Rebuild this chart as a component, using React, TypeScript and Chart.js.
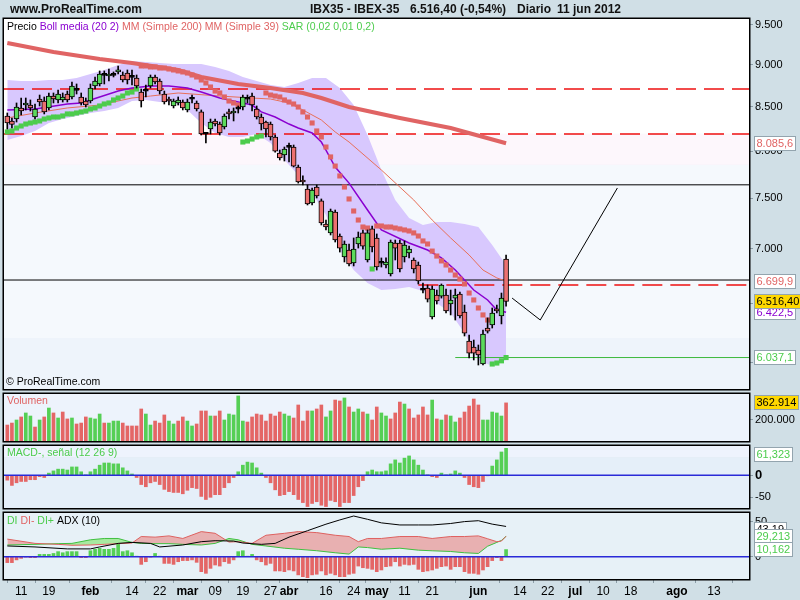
import React, { useEffect, useRef } from "react";
import { Chart, registerables } from "chart.js";

Chart.register(...registerables);

const FONT = "'Liberation Sans', Arial, Helvetica, sans-serif";

// ===== x axis: trading-day index (0 = 6 ene 2012 ... 108 = 11 jun 2012) =====
const xTickIdx = [3, 9, 18, 27, 33, 39, 45, 51, 57, 61, 69, 75, 80, 86, 92, 102, 111, 117, 123, 129, 135, 145, 153];
const xTickLbl = ["11", "19", "feb", "14", "22", "mar", "09", "19", "27", "abr", "16", "24", "may", "11", "21", "jun", "14", "22", "jul", "10", "18", "ago", "13"];
const monthLbls = ["feb", "mar", "abr", "may", "jun", "jul", "ago"];

// ===== IBEX-35 daily OHLC =====
const opens = [
  8392, 8335, 8357, 8484, 8518, 8518, 8380, 8588, 8565, 8484,
  8623, 8577, 8577, 8647, 8612, 8690, 8612, 8565, 8565, 8742,
  8766, 8870, 8862, 8870, 8911, 8874, 8898, 8846, 8838, 8670,
  8680, 8742, 8850, 8802, 8647, 8577, 8507, 8542, 8553, 8461,
  8585, 8542, 8438, 8185, 8244, 8335, 8300, 8267, 8438, 8426,
  8470, 8495, 8585, 8623, 8472, 8380, 8323, 8300, 8155, 7979,
  7957, 8040, 8044, 7828, 7690, 7596, 7453, 7617, 7474, 7243,
  7155, 7362, 7125, 6924, 6990, 6868, 7048, 7155, 6896, 7194,
  7106, 6865, 6849, 6765, 7057, 7057, 6924, 6962, 6896, 6849,
  6617, 6637, 6380, 6574, 6565, 6574, 6494, 6547, 6583, 6424,
  6175, 6124, 6099, 5984, 6285, 6311, 6450, 6389, 6905,
];
const highs = [
  8426, 8369, 8542, 8600, 8600, 8577, 8530, 8635, 8612, 8659,
  8659, 8694, 8659, 8682, 8790, 8766, 8659, 8600, 8766, 8850,
  8923, 8923, 8947, 8911, 8984, 8911, 8935, 8935, 8874, 8706,
  8754, 8874, 8874, 8826, 8682, 8612, 8588, 8612, 8577, 8588,
  8635, 8565, 8461, 8199, 8357, 8357, 8323, 8415, 8472, 8484,
  8507, 8635, 8635, 8659, 8507, 8415, 8335, 8323, 8177, 8011,
  8044, 8088, 8066, 7849, 7733, 7638, 7607, 7638, 7494, 7282,
  7392, 7382, 7145, 7077, 7048, 7106, 7164, 7184, 7184, 7223,
  7145, 6915, 6915, 7086, 7086, 7086, 7077, 7028, 6915, 6877,
  6683, 6665, 6656, 6619, 6674, 6628, 6619, 6628, 6601, 6485,
  6225, 6183, 6141, 6268, 6372, 6459, 6485, 6592, 6943,
];
const lows = [
  8244, 8255, 8323, 8403, 8461, 8449, 8357, 8507, 8415, 8461,
  8542, 8542, 8553, 8553, 8588, 8647, 8518, 8495, 8542, 8706,
  8742, 8766, 8802, 8850, 8886, 8790, 8766, 8754, 8718, 8495,
  8612, 8718, 8766, 8647, 8530, 8518, 8484, 8518, 8461, 8438,
  8542, 8449, 8177, 8088, 8188, 8278, 8177, 8244, 8357, 8335,
  8426, 8461, 8542, 8449, 8357, 8233, 8155, 8121, 7989, 7903,
  7892, 7882, 7828, 7658, 7638, 7433, 7433, 7504, 7233, 7184,
  7135, 7067, 6971, 6877, 6840, 6840, 7009, 6999, 6877, 6971,
  6802, 6830, 6821, 6747, 6896, 6784, 6877, 6915, 6775, 6674,
  6592, 6512, 6363, 6494, 6547, 6415, 6398, 6354, 6372, 6217,
  6033, 6017, 5976, 5976, 6242, 6285, 6415, 6320, 6476,
];
const closes = [
  8312, 8295, 8495, 8449, 8530, 8484, 8472, 8553, 8438, 8623,
  8588, 8647, 8612, 8577, 8742, 8690, 8542, 8518, 8718, 8802,
  8886, 8870, 8886, 8870, 8935, 8814, 8814, 8846, 8742, 8565,
  8680, 8850, 8790, 8682, 8553, 8565, 8565, 8577, 8484, 8553,
  8585, 8472, 8188, 8185, 8323, 8300, 8199, 8392, 8415, 8449,
  8470, 8612, 8585, 8518, 8380, 8300, 8244, 8155, 8000, 7925,
  8022, 8040, 7838, 7669, 7669, 7443, 7586, 7525, 7253, 7213,
  7372, 7086, 7009, 7048, 6858, 6999, 7115, 7028, 7155, 7019,
  6830, 6865, 6877, 7067, 7009, 6812, 7038, 6999, 6812, 6701,
  6617, 6538, 6628, 6521, 6665, 6433, 6530, 6574, 6389, 6242,
  6074, 6074, 6058, 6234, 6259, 6415, 6433, 6547, 6516.4,
];

// ===== Bollinger (20 2) =====
const bollIdx = [0, 3, 6, 9, 12, 15, 18, 21, 24, 27, 30, 33, 36, 39, 42, 45, 48, 51, 54, 57, 60, 63, 66, 69, 72, 75, 78, 81, 84, 87, 90, 93, 96, 99, 102, 105, 108];
const bollUpper = [8814, 8802, 8802, 8814, 8814, 8838, 8886, 8935, 8996, 9045, 9033, 9020, 9008, 9008, 9008, 8972, 8923, 8850, 8802, 8754, 8730, 8778, 8838, 8838, 8718, 8518, 8177, 7796, 7484, 7302, 7233, 7262, 7262, 7243, 7213, 7038, 6849];
const bollLower = [8121, 8166, 8222, 8312, 8357, 8392, 8426, 8449, 8484, 8565, 8577, 8553, 8553, 8461, 8312, 8199, 8155, 8155, 8188, 8088, 7903, 7743, 7555, 7332, 6990, 6802, 6683, 6619, 6628, 6647, 6610, 6503, 6415, 6242, 6017, 5968, 6017];
const mediaIdx = [0, 6, 13, 16, 20, 24, 27, 31, 35, 39, 42, 46, 50, 53, 55, 58, 61, 63, 66, 68, 69, 71, 74, 78, 81, 87, 91, 94, 97, 101, 104, 106, 108];
const mediaVal = [8461, 8472, 8530, 8542, 8612, 8682, 8718, 8742, 8742, 8718, 8670, 8600, 8553, 8518, 8438, 8380, 8300, 8255, 8199, 8099, 8011, 7828, 7658, 7382, 7184, 7057, 6990, 6915, 6802, 6619, 6530, 6441, 6422.5];

// ===== moving averages =====
const mm200Idx = [0, 10, 20, 27, 37, 42, 50, 57, 64, 68, 74, 85, 96, 108];
const mm200Val = [9270, 9157, 9069, 9020, 8935, 8850, 8766, 8718, 8659, 8600, 8495, 8369, 8255, 8085.6];
const mm39Idx = [0, 6, 13, 20, 27, 31, 37, 46, 53, 57, 61, 64, 68, 71, 74, 81, 88, 92, 96, 100, 103, 106, 108];
const mm39Val = [8369, 8426, 8484, 8518, 8600, 8623, 8659, 8623, 8600, 8588, 8542, 8461, 8346, 8211, 8099, 7796, 7484, 7282, 7106, 6943, 6802, 6729, 6699.9];

// ===== SAR (0,02 0,01 0,2) : 1 = below price =====
const sarVals = [
  8211, 8222, 8255, 8278, 8300, 8312, 8323, 8335, 8357, 8369, 8380, 8380, 8392, 8415, 8415, 8426, 8438, 8449, 8472, 8484,
  8507, 8530, 8542, 8577, 8600, 8623, 8659, 8670, 8706,
  8984, 8984, 8972, 8972, 8959, 8959, 8947, 8935, 8923, 8911, 8898, 8874, 8850, 8814, 8778, 8730, 8682, 8659, 8612, 8565, 8542, 8518,
  8099, 8110, 8132, 8155, 8166,
  8659, 8635, 8623, 8612, 8577, 8553, 8530, 8495, 8438, 8380, 8312, 8222, 8155, 8044, 7936, 7838, 7733, 7617, 7494, 7372, 7282, 7213, 7203,
  6812,
  7223, 7223, 7213, 7213, 7203, 7194, 7184, 7174, 7155, 7125, 7077, 7048, 6980, 6933, 6887, 6849, 6802, 6756, 6719, 6674, 6592, 6530, 6459, 6398, 6354,
  5984, 5992, 6010, 6037.1,
];
const sarUp = [
  1, 1, 1, 1, 1, 1, 1, 1, 1, 1, 1, 1, 1, 1, 1, 1, 1, 1, 1, 1, 1, 1, 1, 1, 1, 1, 1, 1, 1,
  0, 0, 0, 0, 0, 0, 0, 0, 0, 0, 0, 0, 0, 0, 0, 0, 0, 0, 0, 0, 0, 0,
  1, 1, 1, 1, 1,
  0, 0, 0, 0, 0, 0, 0, 0, 0, 0, 0, 0, 0, 0, 0, 0, 0, 0, 0, 0, 0, 0, 0,
  1,
  0, 0, 0, 0, 0, 0, 0, 0, 0, 0, 0, 0, 0, 0, 0, 0, 0, 0, 0, 0, 0, 0, 0, 0, 0,
  1, 1, 1, 1,
];

// ===== drawn levels / trend line =====
const blackLevels = [7640, 6710];
const redDashLevels = [8706, 8189];
const partDashLevel = 6665;
const partDashFrom = 89;
const supportLevel = 6037.1;
const supportFrom = 97;
const trendIdx = [109.3, 115.4, 132.1];
const trendVal = [6547, 6354, 7607];
const bgLevels = [8189, 7850, 6200];

// ===== volume (thousands) and direction (1 = up) =====
const volK = [
  152, 171, 200, 229, 267, 238, 133, 200, 229, 314,
  267, 219, 276, 210, 219, 162, 171, 229, 219, 210,
  257, 171, 171, 190, 190, 171, 143, 143, 143, 305,
  257, 152, 190, 171, 248, 190, 162, 190, 229, 190,
  143, 162, 286, 286, 238, 238, 286, 200, 257, 248,
  429, 190, 181, 229, 257, 248, 190, 257, 238, 276,
  257, 238, 219, 343, 190, 286, 286, 305, 343, 229,
  286, 390, 381, 410, 324, 276, 305, 276, 257, 200,
  324, 267, 238, 210, 267, 371, 352, 305, 219, 248,
  324, 248, 390, 210, 200, 248, 238, 181, 219, 276,
  333, 400, 343, 200, 200, 276, 267, 238, 362.914,
];
const volUp = [
  0, 0, 1, 0, 1, 1, 0, 1, 0, 1,
  0, 1, 0, 0, 1, 0, 0, 0, 1, 1,
  1, 0, 1, 1, 1, 0, 0, 0, 0, 0,
  1, 1, 0, 0, 0, 1, 1, 0, 0, 1,
  1, 0, 0, 0, 1, 0, 0, 1, 1, 1,
  1, 1, 0, 0, 0, 0, 0, 0, 0, 0,
  1, 1, 0, 0, 0, 0, 1, 0, 0, 1,
  1, 0, 0, 1, 0, 1, 1, 0, 1, 0,
  0, 1, 1, 0, 0, 0, 1, 0, 0, 0,
  0, 0, 1, 0, 1, 0, 1, 1, 0, 0,
  0, 0, 0, 1, 1, 1, 1, 1, 0,
];

// ===== MACD histogram (12 26 9) =====
const macdHist = [
  -11, -23, -17, -14, -14, -10, -10, -3, -5, 5,
  10, 14, 14, 12, 19, 19, 8, 0.5, 8, 14,
  23, 28, 28, 26, 26, 17, 10, 3, -5, -21,
  -26, -17, -14, -21, -32, -37, -39, -39, -42, -34,
  -28, -30, -48, -55, -50, -44, -44, -28, -17, -5,
  8, 23, 30, 28, 17, 5, -5, -17, -33, -46,
  -44, -37, -44, -55, -62, -71, -64, -60, -68, -71,
  -57, -60, -71, -62, -62, -46, -26, -12, 8, 12,
  8, 8, 10, 26, 35, 28, 39, 44, 35, 23,
  12, 0.5, -3, -5, 5, 0.5, 3, 10, 5, -5,
  -21, -26, -28, -14, -0.5, 21, 35, 53, 61.323,
];

// ===== DI / ADX (10) =====
const diHist = [
  -8.5, -8.5, -4.6, -2.4, -0.5, -1.4, -1.4, 3.3, 3.3, 3.3,
  4.6, 7.2, 5.6, 7.2, 7.2, 7.2, -1.4, -1.4, 8.5, 10.5,
  11.9, 10.5, 10.5, 11.9, 17.6, 7.2, 8.5, 5.6, 0.5, -11,
  -7.2, -0.5, 4.6, 0.5, -9.6, -9.6, -11, -7.2, -5.6, -5.6,
  -4.6, -8.1, -21.4, -23.8, -16.7, -11.9, -13.4, -7.2, -9.6, -4.6,
  7.2, 8.5, 0.5, 3.3, -4.6, -7.2, -11.9, -9.6, -20.4, -20.4,
  -21.4, -19, -20.4, -26, -28.6, -30, -26, -25.1, -20.4, -26,
  -23.8, -26, -28.6, -28.6, -25.1, -23.8, -13.4, -15.8, -16.7, -18.1,
  -21.4, -19, -14.3, -13.4, -7.2, -13.4, -11, -11.9, -11, -18.1,
  -21.4, -20.4, -19, -16.7, -14.3, -13.4, -18.1, -14.3, -14.3, -21.4,
  -23.8, -23.8, -25.1, -19, -14.3, -5.6, -1.4, -5.6, 10.162,
];
const diIdx = [0, 6, 11, 14, 18, 21, 24, 27, 29, 32, 35, 38, 42, 45, 48, 50, 53, 56, 60, 63, 67, 71, 74, 76, 78, 81, 85, 89, 92, 96, 99, 102, 104, 106, 107, 108];
const diPlus = [16.7, 17.6, 18.6, 19, 24.1, 26, 26, 20.4, 19, 18.6, 18.6, 17.6, 16.7, 19, 26, 24.1, 17.6, 15.3, 12.1, 10.6, 8.5, 5.6, 3.7, 13.9, 13, 10.6, 12.1, 9.3, 8.4, 7.4, 5.6, 4.6, 14.9, 20.4, 23.2, 29.213];
const diMinus = [25.1, 19, 17.6, 16.3, 16.7, 17.6, 18.6, 19.5, 28.8, 27.9, 29.7, 26, 35.8, 33.4, 20.9, 21.4, 19, 30.6, 33.4, 35.8, 34.4, 30.6, 28.8, 21.4, 26, 26, 28.8, 28.8, 26, 28.8, 28.8, 29.7, 25.6, 21.4, 22.3, 29.151];
const adxIdx = [0, 6, 13, 18, 20, 24, 27, 31, 33, 38, 42, 45, 49, 51, 55, 58, 61, 65, 69, 72, 75, 78, 81, 85, 89, 92, 96, 99, 102, 105, 108];
const adxVal = [15.3, 13.9, 11.1, 11.1, 13.9, 19, 20.4, 19, 13.9, 16.7, 21.4, 22.8, 22.3, 19.5, 17.6, 19, 27.9, 37.1, 46.4, 52.5, 58.1, 53.4, 48.3, 45.3, 45.3, 45.3, 47.4, 50.1, 51.4, 46.5, 43.19];

// ===== axis ranges / ticks =====
const X_MIN = -0.715;
const X_MAX = 160.6;
const P_MIN = 5783.6;
const P_MAX = 9578;
const priceTicks = [9500, 9000, 8500, 8000, 7500, 7000, 6500, 6000];
const VOL_MAX = 447600;
const volTicks = [200000];
const MACD_MIN = -74.3;
const MACD_MAX = 66.6;
const macdTicks = [0, -50];
const ADX_MIN = -31.9;
const ADX_MAX = 62.4;
const adxTicks = [50, 0];

// ===== colours =====
const BG = "#d0dfe6";
const C_GREEN = "#5cda5c";
const C_RED = "#ec7070";
const V_GREEN = "#55cf55";
const V_RED = "#e46666";
const PURPLE = "#8a00d0";
const SALMON = "#e06464";
const SAR_GREEN = "#4ccc4c";
const BOLL_FILL = "rgb(216,200,254)";
const BLUE = "#2a2ad8";
const TICK_GREY = "#8a9ca6";

const fmtNum = (v: number, dec: number) => {
  const s = Math.abs(v).toFixed(dec);
  const [ip, dp] = s.split(".");
  const ints = ip.replace(/\B(?=(\d{3})+(?!\d))/g, ".");
  return (v < 0 ? "-" : "") + ints + (dp ? "," + dp : "");
};

const idx = closes.map((_, i) => i);
const pts = (xs: number[], ys: number[]) => xs.map((x, k) => ({ x, y: ys[k] }));
const last = (a: number[]) => a[a.length - 1];

function yAxis(type: string, min: number, max: number, ticks: number[], fmt: (v: number) => string, font?: any) {
  return {
    type,
    position: "right",
    min,
    max,
    afterFit: (s: any) => {
      s.width = 51;
    },
    afterBuildTicks: (s: any) => {
      s.ticks = ticks.map((v) => ({ value: v }));
    },
    grid: { drawOnChartArea: false, drawTicks: true, tickLength: 4, color: TICK_GREY },
    border: { display: false },
    ticks: {
      color: "#000",
      padding: 2,
      autoSkip: false,
      font: font || { size: 11, family: FONT },
      callback: (v: any) => fmt(Number(v)),
    },
  };
}

const xHidden = { type: "linear", min: X_MIN, max: X_MAX, display: false, offset: false };

function baseOptions(padding: any, scales: any) {
  return {
    responsive: false,
    animation: false,
    devicePixelRatio: 1,
    events: [],
    layout: { padding },
    plugins: { legend: { display: false }, tooltip: { enabled: false } },
    scales,
  };
}

function fillBands(chart: any, levels: number[], colors: string[], top: number) {
  const { ctx, chartArea: a, scales } = chart;
  const ys = scales.y;
  const edges = [top, ...levels];
  colors.forEach((c, k) => {
    const y1 = k === 0 ? a.top : Math.max(a.top, ys.getPixelForValue(edges[k]));
    const y2 = k + 1 < edges.length ? Math.min(a.bottom, ys.getPixelForValue(edges[k + 1])) : a.bottom;
    if (y2 > y1) {
      ctx.fillStyle = c;
      ctx.fillRect(a.left, y1, a.right - a.left, y2 - y1);
    }
  });
}

function border(chart: any) {
  const { ctx, chartArea: a } = chart;
  ctx.save();
  ctx.strokeStyle = "#000";
  ctx.lineWidth = 1.5;
  ctx.strokeRect(a.left - 0.75, a.top - 0.75, a.right - a.left + 1.5, a.bottom - a.top + 1.5);
  ctx.restore();
}

function rich(ctx: any, parts: [string, string][], x: number, y: number, font: string) {
  ctx.font = font;
  ctx.textBaseline = "middle";
  ctx.textAlign = "left";
  let cx = x;
  for (const [t, c] of parts) {
    ctx.fillStyle = c;
    ctx.fillText(t, cx, y);
    cx += ctx.measureText(t).width;
  }
}

function valueBox(ctx: any, text: string, yc: number, fg: string, bg: string) {
  ctx.save();
  ctx.font = `11px ${FONT}`;
  const w = Math.round(ctx.measureText(text).width) + 5;
  const h = 15;
  const x = 754;
  const y = Math.round(yc - h / 2);
  ctx.fillStyle = bg;
  ctx.fillRect(x, y, w, h);
  ctx.strokeStyle = "#93a4ae";
  ctx.lineWidth = 1;
  ctx.strokeRect(x + 0.5, y + 0.5, w - 1, h - 1);
  ctx.fillStyle = fg;
  ctx.textBaseline = "middle";
  ctx.textAlign = "left";
  ctx.fillText(text, x + 2.5, y + h / 2 + 0.5);
  ctx.restore();
}

function zeroLine(chart: any) {
  const { ctx, chartArea: a, scales } = chart;
  const y = scales.y.getPixelForValue(0);
  ctx.save();
  ctx.strokeStyle = BLUE;
  ctx.lineWidth = 1.5;
  ctx.beginPath();
  ctx.moveTo(a.left, y);
  ctx.lineTo(a.right, y);
  ctx.stroke();
  ctx.restore();
}

const lineDs = (data: any[], color: string, width: number, order: number, extra: any = {}) => ({
  type: "line",
  data,
  borderColor: color,
  borderWidth: width,
  pointRadius: 0,
  tension: 0,
  fill: false,
  order,
  ...extra,
});

function mainConfig(): any {
  const deco = {
    id: "mainDeco",
    beforeDraw(chart: any) {
      fillBands(chart, bgLevels, ["#ffffff", "#fdf7fc", "#f5f9fd", "#eef4fb"], P_MAX);
    },
    afterDraw(chart: any) {
      const { ctx, chartArea: a, scales } = chart;
      border(chart);
      ctx.save();
      rich(ctx, [["www.ProRealTime.com", "#111"]], 10, 10, `bold 12px ${FONT}`);
      rich(ctx, [["IBX35 - IBEX-35", "#111"]], 310, 10, `bold 12px ${FONT}`);
      rich(ctx, [["6.516,40 (-0,54%)", "#111"]], 410, 10, `bold 12px ${FONT}`);
      rich(ctx, [["Diario", "#111"]], 517, 10, `bold 12px ${FONT}`);
      rich(ctx, [["11 jun 2012", "#111"]], 557, 10, `bold 12px ${FONT}`);
      rich(
        ctx,
        [
          ["Precio ", "#000"],
          ["Boll media (20 2) ", PURPLE],
          ["MM (Simple 200) ", SALMON],
          ["MM (Simple 39) ", SALMON],
          ["SAR (0,02 0,01 0,2)", SAR_GREEN],
        ],
        a.left + 3,
        a.top + 8,
        `10.5px ${FONT}`
      );
      rich(ctx, [["\u00a9 ProRealTime.com", "#000"]], a.left + 2, a.bottom - 7, `10.5px ${FONT}`);
      ctx.restore();
      const ys = scales.y;
      valueBox(ctx, fmtNum(last(mm200Val), 1), ys.getPixelForValue(last(mm200Val)), SALMON, "#ffffff");
      valueBox(ctx, fmtNum(last(mm39Val), 1), ys.getPixelForValue(last(mm39Val)), SALMON, "#ffffff");
      valueBox(ctx, fmtNum(last(mediaVal), 1), ys.getPixelForValue(last(mediaVal)), PURPLE, "#ffffff");
      valueBox(ctx, fmtNum(last(closes), 2), ys.getPixelForValue(last(closes)), "#000", "#ffd800");
      valueBox(ctx, fmtNum(last(sarVals), 1), ys.getPixelForValue(last(sarVals)), SAR_GREEN, "#ffffff");
    },
  };
  return {
    type: "bar",
    data: {
      datasets: [
        { type: "line", data: pts(bollIdx, bollUpper), borderColor: "transparent", borderWidth: 0, pointRadius: 0, fill: false, order: 100 },
        { type: "line", data: pts(bollIdx, bollLower), borderColor: "transparent", borderWidth: 0, pointRadius: 0, fill: "-1", backgroundColor: BOLL_FILL, order: 99 },
        ...blackLevels.map((v) => lineDs([{ x: X_MIN, y: v }, { x: X_MAX, y: v }], "#000", 1, 90)),
        ...redDashLevels.map((v) => lineDs([{ x: X_MIN, y: v }, { x: X_MAX, y: v }], "#ee1010", 1.5, 90, { borderDash: [20, 8] })),
        lineDs([{ x: partDashFrom, y: partDashLevel }, { x: X_MAX, y: partDashLevel }], "#ee1010", 1.5, 90, { borderDash: [20, 8] }),
        lineDs([{ x: supportFrom, y: supportLevel }, { x: X_MAX, y: supportLevel }], "#3cb83c", 1, 90),
        lineDs(pts(mm200Idx, mm200Val), SALMON, 4, 80),
        lineDs(pts(mm39Idx, mm39Val), "#e8705a", 1, 75),
        lineDs(pts(mediaIdx, mediaVal), PURPLE, 1.5, 70),
        {
          type: "line",
          data: idx.filter((i) => sarUp[i]).map((i) => ({ x: i, y: sarVals[i] })),
          showLine: false,
          pointStyle: "rect",
          pointRadius: 3.6,
          pointBackgroundColor: SAR_GREEN,
          pointBorderWidth: 0,
          order: 60,
        },
        {
          type: "line",
          data: idx.filter((i) => !sarUp[i]).map((i) => ({ x: i, y: sarVals[i] })),
          showLine: false,
          pointStyle: "rect",
          pointRadius: 3.6,
          pointBackgroundColor: SALMON,
          pointBorderWidth: 0,
          order: 60,
        },
        {
          type: "bar",
          data: idx.map((i) => ({ x: i, y: [lows[i], highs[i]] })),
          backgroundColor: "#000",
          barThickness: 1,
          grouped: false,
          order: 50,
        },
        {
          type: "bar",
          data: idx.map((i) => ({ x: i, y: [opens[i], closes[i]] })),
          backgroundColor: idx.map((i) => (closes[i] > opens[i] ? C_GREEN : closes[i] < opens[i] ? C_RED : "#000")),
          borderColor: "#000",
          borderWidth: 1,
          borderSkipped: false,
          barThickness: 5,
          minBarLength: 2,
          grouped: false,
          order: 40,
        },
        lineDs(pts(trendIdx, trendVal), "#000", 1, 10),
      ],
    },
    options: baseOptions(
      { left: 4, right: 0, top: 19, bottom: 211 },
      {
        x: xHidden,
        y: yAxis("logarithmic", P_MIN, P_MAX, priceTicks, (v) => fmtNum(v, 0)),
      }
    ),
    plugins: [deco],
  };
}

function volConfig(): any {
  const deco = {
    id: "volDeco",
    beforeDraw(chart: any) {
      fillBands(chart, [], ["#edf3fc"], VOL_MAX);
    },
    afterDraw(chart: any) {
      const { ctx, chartArea: a, scales } = chart;
      border(chart);
      rich(ctx, [["Volumen", SALMON]], a.left + 3, a.top + 7, `10.5px ${FONT}`);
      const v = last(volK) * 1000;
      valueBox(ctx, fmtNum(v, 0), Math.max(a.top + 8, scales.y.getPixelForValue(v)), "#000", "#ffd800");
    },
  };
  return {
    type: "bar",
    data: {
      datasets: [
        {
          type: "bar",
          data: idx.map((i) => ({ x: i, y: volK[i] * 1000 })),
          backgroundColor: idx.map((i) => (volUp[i] ? V_GREEN : V_RED)),
          barThickness: 3,
          grouped: false,
        },
      ],
    },
    options: baseOptions(
      { left: 4, right: 0, top: 394, bottom: 159 },
      { x: xHidden, y: yAxis("linear", 0, VOL_MAX, volTicks, (v) => fmtNum(v, 0)) }
    ),
    plugins: [deco],
  };
}

function macdConfig(): any {
  const deco = {
    id: "macdDeco",
    beforeDraw(chart: any) {
      fillBands(chart, [40], ["#eef3fd", "#e5eff9"], MACD_MAX);
    },
    afterDatasetsDraw(chart: any) {
      zeroLine(chart);
    },
    afterDraw(chart: any) {
      const { ctx, chartArea: a, scales } = chart;
      border(chart);
      rich(ctx, [["MACD-, se\u00f1al (12 26 9)", SAR_GREEN]], a.left + 3, a.top + 7, `10.5px ${FONT}`);
      const v = last(macdHist);
      valueBox(ctx, fmtNum(v, 3), Math.max(a.top + 8, scales.y.getPixelForValue(v)), SAR_GREEN, "#ffffff");
    },
  };
  return {
    type: "bar",
    data: {
      datasets: [
        {
          type: "bar",
          data: idx.map((i) => ({ x: i, y: macdHist[i] })),
          backgroundColor: idx.map((i) => (macdHist[i] >= 0 ? V_GREEN : V_RED)),
          barThickness: 3,
          grouped: false,
        },
      ],
    },
    options: baseOptions(
      { left: 4, right: 0, top: 446, bottom: 92 },
      {
        x: xHidden,
        y: yAxis("linear", MACD_MIN, MACD_MAX, macdTicks, (v) => fmtNum(v, 0), (c: any) => {
          const z = c.tick && c.tick.value === 0;
          return { size: z ? 13 : 11, weight: z ? "bold" : "normal", family: FONT };
        }),
      }
    ),
    plugins: [deco],
  };
}

function adxConfig(): any {
  const deco = {
    id: "adxDeco",
    beforeDraw(chart: any) {
      fillBands(chart, [], ["#e7f1f7"], ADX_MAX);
    },
    afterDatasetsDraw(chart: any) {
      zeroLine(chart);
    },
    afterDraw(chart: any) {
      const { ctx, chartArea: a, scales } = chart;
      border(chart);
      rich(
        ctx,
        [
          ["DI ", SAR_GREEN],
          ["DI- ", SALMON],
          ["DI+ ", SAR_GREEN],
          ["ADX (10)", "#000"],
        ],
        a.left + 3,
        a.top + 8,
        `10.5px ${FONT}`
      );
      const base = scales.y.getPixelForValue(last(diHist));
      valueBox(ctx, fmtNum(last(adxVal), 2), base - 20.4, "#000", "#ffffff");
      valueBox(ctx, fmtNum(last(diMinus), 3), base - 6.7, SALMON, "#ffffff");
      valueBox(ctx, fmtNum(last(diPlus), 3), base - 13.4, SAR_GREEN, "#ffffff");
      valueBox(ctx, fmtNum(last(diHist), 3), base, SAR_GREEN, "#ffffff");
    },
  };
  const lbl = (v: number) => {
    const k = xTickIdx.indexOf(v);
    return k >= 0 ? xTickLbl[k] : "";
  };
  return {
    type: "bar",
    data: {
      datasets: [
        lineDs(pts(diIdx, diPlus), "#40c040", 1, 20, {
          fill: { target: 1, above: "rgba(160,232,150,0.9)", below: "rgba(232,168,168,0.9)" },
        }),
        lineDs(pts(diIdx, diMinus), "#e06060", 1, 19),
        lineDs(pts(adxIdx, adxVal), "#000", 1, 18),
        {
          type: "bar",
          data: idx.map((i) => ({ x: i, y: diHist[i] })),
          backgroundColor: idx.map((i) => (diHist[i] >= 0 ? V_GREEN : V_RED)),
          barThickness: 3,
          grouped: false,
          order: 30,
        },
      ],
    },
    options: baseOptions(
      { left: 4, right: 0, top: 513, bottom: 0 },
      {
        x: {
          type: "linear",
          min: X_MIN,
          max: X_MAX,
          position: "bottom",
          offset: false,
          afterFit: (s: any) => {
            s.height = 21;
          },
          afterBuildTicks: (s: any) => {
            s.ticks = xTickIdx.map((v) => ({ value: v }));
          },
          grid: { drawOnChartArea: false, drawTicks: true, tickLength: 4, color: TICK_GREY },
          border: { display: false },
          ticks: {
            autoSkip: false,
            maxRotation: 0,
            minRotation: 0,
            padding: 1,
            color: "#000",
            callback: (v: any) => lbl(Number(v)),
            font: (c: any) => ({
              family: FONT,
              size: 12,
              weight: c.tick && monthLbls.includes(lbl(c.tick.value)) ? "bold" : "normal",
            }),
          },
        },
        y: yAxis("linear", ADX_MIN, ADX_MAX, adxTicks, (v) => fmtNum(v, 0)),
      }
    ),
    plugins: [deco],
  };
}

export default function App() {
  const r1 = useRef<HTMLCanvasElement>(null);
  const r2 = useRef<HTMLCanvasElement>(null);
  const r3 = useRef<HTMLCanvasElement>(null);
  const r4 = useRef<HTMLCanvasElement>(null);

  useEffect(() => {
    const charts = [
      new Chart(r1.current as HTMLCanvasElement, mainConfig()),
      new Chart(r2.current as HTMLCanvasElement, volConfig()),
      new Chart(r3.current as HTMLCanvasElement, macdConfig()),
      new Chart(r4.current as HTMLCanvasElement, adxConfig()),
    ];
    return () => charts.forEach((c) => c.destroy());
  }, []);

  const cs: React.CSSProperties = { position: "absolute", left: 0, top: 0, width: 800, height: 600 };
  return (
    <div style={{ position: "absolute", left: 0, top: 0, width: 800, height: 600, background: BG, overflow: "hidden" }}>
      <canvas ref={r1} width={800} height={600} style={cs} />
      <canvas ref={r2} width={800} height={600} style={cs} />
      <canvas ref={r3} width={800} height={600} style={cs} />
      <canvas ref={r4} width={800} height={600} style={cs} />
    </div>
  );
}
